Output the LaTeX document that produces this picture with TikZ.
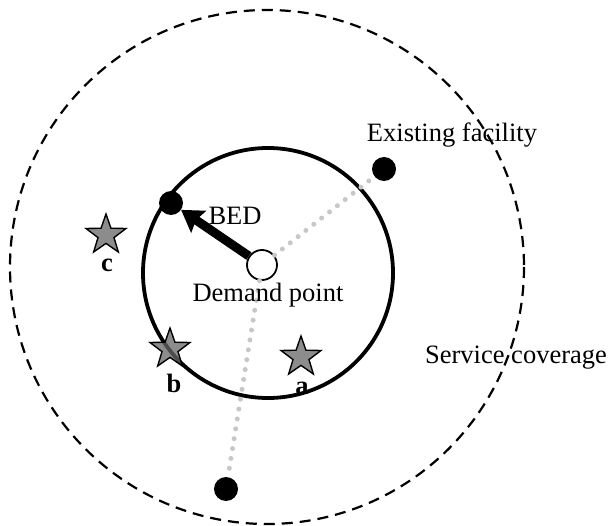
\documentclass[tikz,border=0pt]{standalone}
\usepackage{fontspec}
\setmainfont{Liberation Serif}
\usetikzlibrary{shapes.geometric,arrows.meta}

\begin{document}
\begin{tikzpicture}[x=1pt,y=-1pt,every node/.style={font=\fontsize{26.5}{30}\selectfont},
  facility/.style={circle,fill=black,inner sep=0pt,minimum size=24pt},
  demandpt/.style={circle,draw=black,line width=1.8pt,fill=white,inner sep=0pt,minimum size=30pt},
  site/.style={star,star points=5,star point ratio=2.5,draw=black,line width=1.4pt,fill=black!60,fill opacity=0.75,inner sep=0pt,minimum size=42pt},
  sitetag/.style={anchor=base,font=\fontsize{26.5}{30}\selectfont\bfseries},
  plain/.style={anchor=base},
  reach/.style={draw=black!22,line width=5pt,line cap=round,dash pattern=on 0pt off 10pt},
  bedarrow/.style={line width=9pt,-{Stealth[length=21pt,width=26pt,inset=3pt]}}]
\useasboundingbox (0,0) rectangle (613,526);
\draw[line width=2.2pt,dash pattern=on 11pt off 7pt] (267,267) circle (257);
\draw[line width=3.8pt] (268,273) circle (125);
\node[site] (sc) at (106,235) {};
\node[site] (sb) at (170,349) {};
\node[site] (sa) at (301,357) {};
\node[facility] (ex) at (384,169) {};
\node[facility] (bed) at (171,203) {};
\node[facility] (fs) at (226,489) {};
\node[demandpt] (dm) at (262,265) {};
\draw[reach] (dm) -- (ex);
\draw[reach] (dm) -- (fs);
\draw[bedarrow] (dm) -- (bed);
\node[sitetag] (lc) at (107,272) {c};
\node[sitetag] (lb) at (174,392) {b};
\node[sitetag] (la) at (302,395) {a};
\node[plain] (exlbl) at (452,142) {Existing facility};
\node[plain] (bedlbl) at (235,225) {BED};
\node[plain] (dmlbl) at (268,302) {Demand point};
\node[plain] (svlbl) at (516,363) {Service coverage};
\end{tikzpicture}
\end{document}
